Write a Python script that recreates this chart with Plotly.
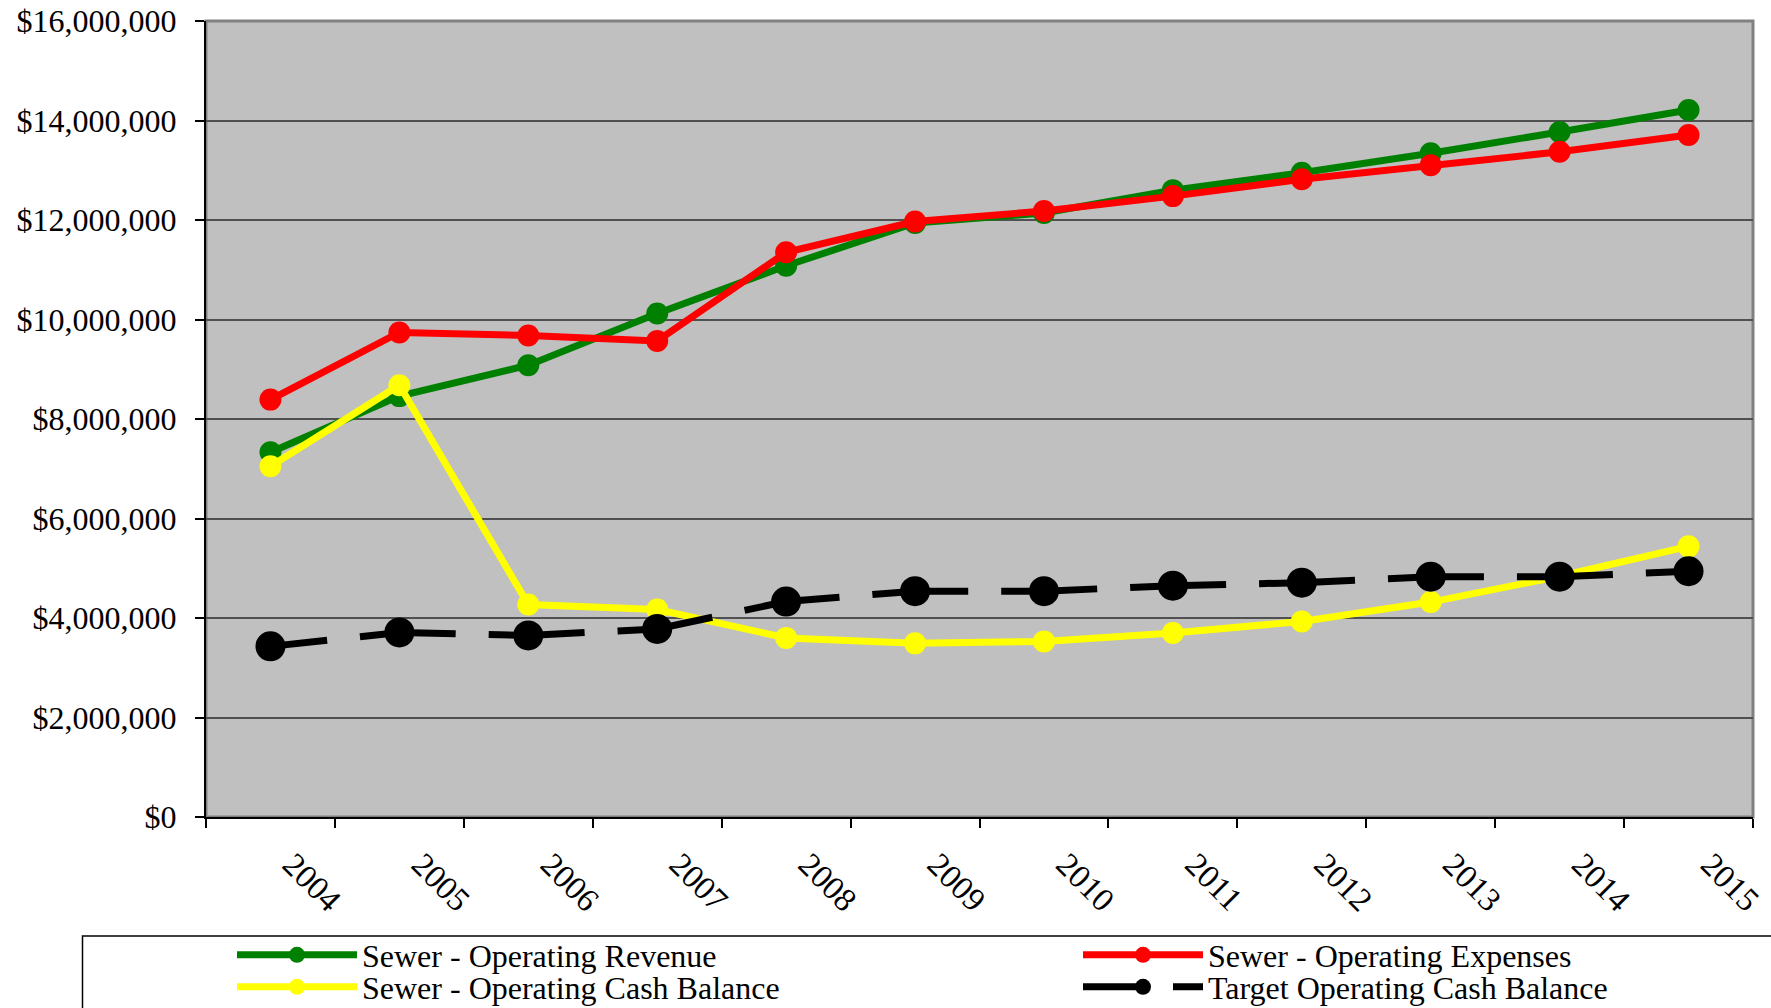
import plotly.graph_objects as go

# Fiscal years on the category axis
years = ["2004", "2005", "2006", "2007", "2008", "2009",
         "2010", "2011", "2012", "2013", "2014", "2015"]

# Sewer fund figures (dollars)
operating_revenue = [7330000, 8460000, 9080000, 10120000, 11080000, 11940000,
                     12140000, 12600000, 12950000, 13340000, 13770000, 14210000]
operating_expenses = [8390000, 9740000, 9680000, 9570000, 11350000, 11970000,
                      12180000, 12480000, 12820000, 13100000, 13370000, 13710000]
operating_cash_balance = [7050000, 8680000, 4270000, 4170000, 3600000, 3490000,
                          3530000, 3700000, 3930000, 4320000, 4840000, 5440000]
target_cash_balance = [3430000, 3710000, 3650000, 3780000, 4330000, 4540000,
                       4540000, 4650000, 4710000, 4830000, 4830000, 4940000]

y_ticks = [0, 2000000, 4000000, 6000000, 8000000, 10000000,
           12000000, 14000000, 16000000]
y_tick_text = [f"${v:,}" for v in y_ticks]

FONT = "Liberation Serif, Times New Roman, serif"
W, H = 1771, 1008
M_L, M_R, M_T, M_B = 206, 18, 21, 191

plot_w = W - M_L - M_R
plot_h = H - M_T - M_B


def px_to_paper_x(px):
    return (px - M_L) / plot_w


def px_to_paper_y(py):
    return (H - M_B - py) / plot_h


# long-dash pattern that restarts at every year for the target line
target_dash = "57px,33px," + ",".join(["96px,33px"] * 12)

# name, values, colour, marker size, dash, legend id, legend position (px)
series = [
    ("Sewer - Operating Revenue", operating_revenue, "#008000", 22, "solid",
     "legend", (232, 955)),
    ("Sewer - Operating Expenses", operating_expenses, "#FF0000", 22, "solid",
     "legend2", (1078, 955)),
    ("Sewer - Operating Cash Balance", operating_cash_balance, "#FFFF00", 22, "solid",
     "legend3", (232, 987)),
    ("Target Operating Cash Balance", target_cash_balance, "#000000", 30, target_dash,
     "legend4", (1078, 987)),
]

fig = go.Figure()
legend_layouts = {}

for name, vals, color, msize, dash, leg, (lx, ly) in series:
    fig.add_trace(go.Scatter(
        x=years, y=vals, name=name, mode="lines+markers",
        line=dict(color=color, width=7, dash=dash),
        marker=dict(color=color, size=msize, symbol="circle", line=dict(width=0)),
        legend=leg,
    ))
    legend_layouts[leg] = dict(
        x=px_to_paper_x(lx), y=px_to_paper_y(ly),
        xanchor="left", yanchor="middle",
        orientation="h",
        bgcolor="rgba(0,0,0,0)", borderwidth=0,
        font=dict(family=FONT, size=32, color="black"),
        itemwidth=120,
        itemsizing="trace",
    )

fig.update_layout(
    width=W, height=H,
    margin=dict(l=M_L, r=M_R, t=M_T, b=M_B, autoexpand=False),
    paper_bgcolor="white",
    plot_bgcolor="#C0C0C0",
    font=dict(family=FONT, size=32, color="black"),
    showlegend=True,
    xaxis=dict(
        type="category",
        tickson="boundaries",
        ticks="outside", ticklen=9, tickwidth=1.5, tickcolor="black",
        tickangle=45,
        ticklabelstandoff=13,
        ticklabelshift=22,
        tickfont=dict(family=FONT, size=33, color="black"),
        showline=True, linecolor="black", linewidth=2,
        showgrid=False, zeroline=False,
        range=[-0.5, 11.5],
    ),
    yaxis=dict(
        range=[0, 16000000],
        tickmode="array",
        tickvals=y_ticks,
        ticktext=y_tick_text,
        ticks="outside", ticklen=9, tickwidth=1.5, tickcolor="black",
        ticklabelstandoff=12,
        tickfont=dict(family=FONT, size=32, color="black"),
        showline=True, linecolor="black", linewidth=2,
        showgrid=True, gridcolor="#505050", gridwidth=1.5,
        zeroline=False,
    ),
    shapes=[
        # plot-area frame (grey on top and right)
        dict(type="rect", xref="paper", yref="paper", x0=0, x1=1, y0=0, y1=1,
             line=dict(color="#808080", width=3), fillcolor="rgba(0,0,0,0)",
             layer="below"),
        # legend box, running past the lower-right edge of the page
        dict(type="rect", xref="paper", yref="paper",
             x0=px_to_paper_x(82.5), x1=px_to_paper_x(1830),
             y0=px_to_paper_y(936), y1=px_to_paper_y(1060),
             line=dict(color="black", width=1.5), fillcolor="white",
             layer="below"),
    ],
    **legend_layouts,
)

fig.write_html("out.html")
